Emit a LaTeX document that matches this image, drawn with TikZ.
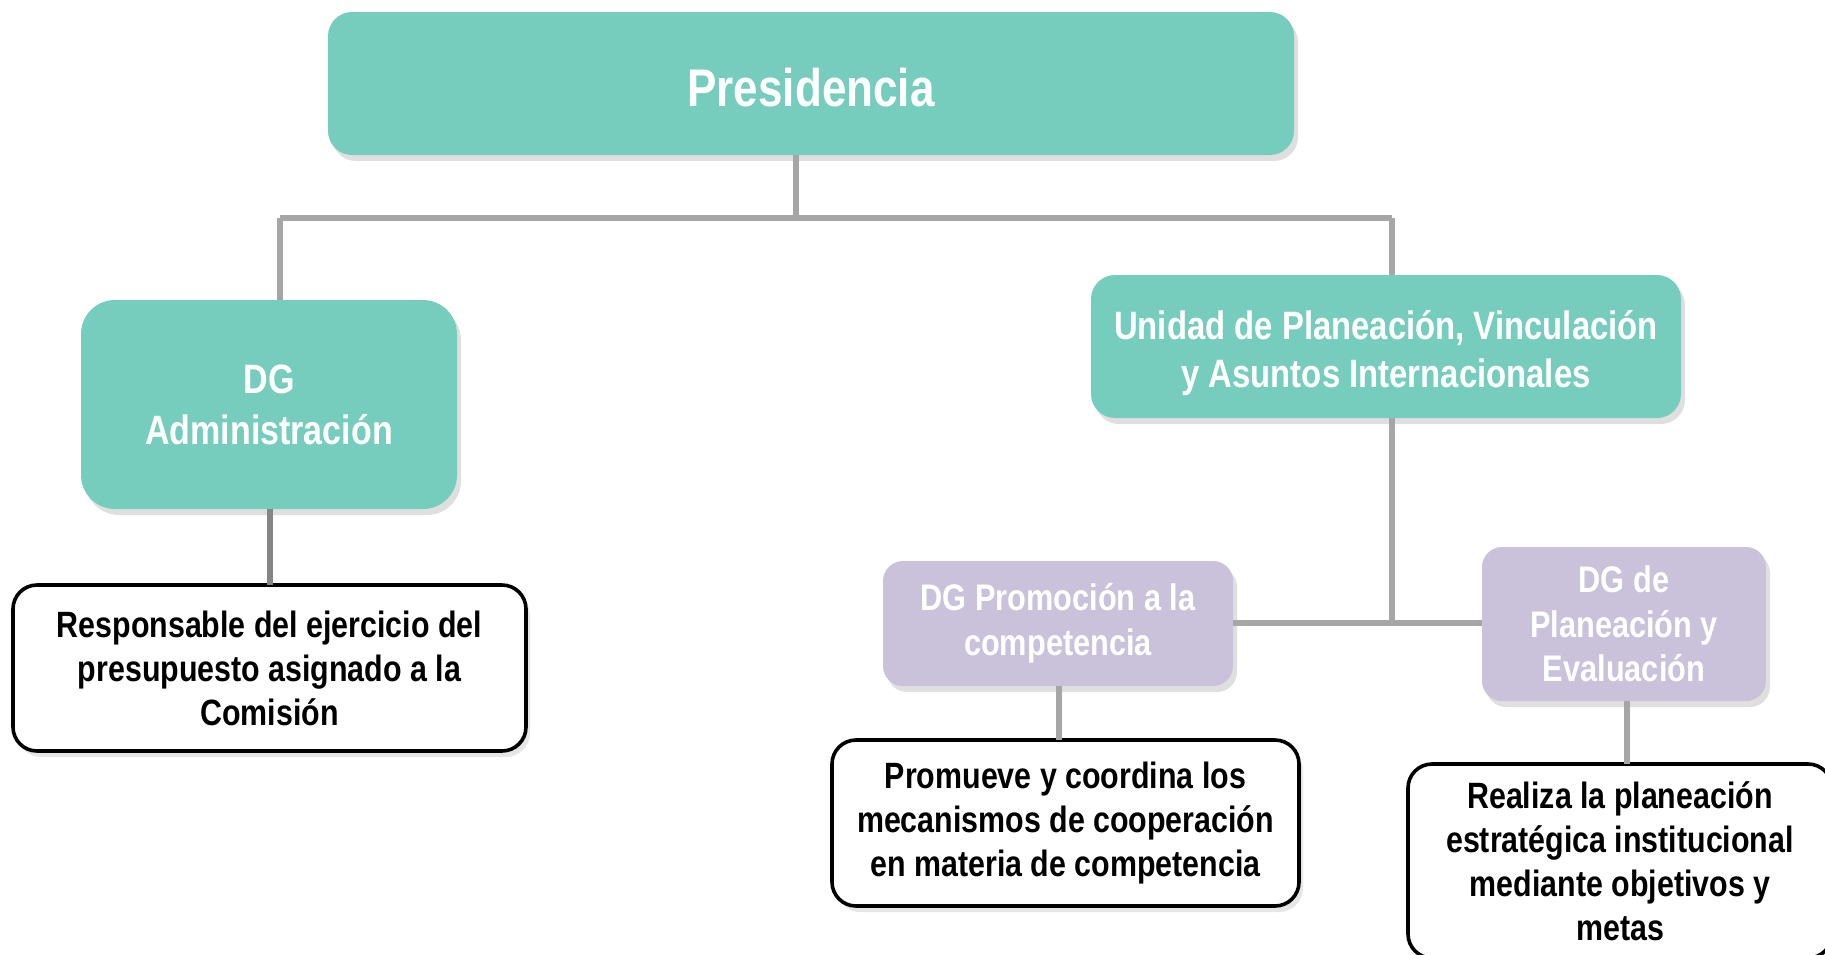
\documentclass[tikz,border=0pt]{standalone}
\usepackage{fontspec}
\setmainfont{Liberation Sans}[FakeStretch=0.83]
\usetikzlibrary{shadows,calc}
\definecolor{teal1}{HTML}{76CDBD}
\definecolor{lav}{HTML}{CAC1DB}
\definecolor{conngray}{HTML}{A6A6A6}
\definecolor{conndark}{HTML}{858585}
\tikzset{
  every node/.style={inner sep=0pt, outer sep=0pt, align=center, font=\bfseries},
  tealbox/.style={fill=teal1, text=white, rounded corners=12pt,
     drop shadow={opacity=0.25, shadow xshift=2pt, shadow yshift=-3pt}},
  lavbox/.style={fill=lav, text=white, rounded corners=10pt,
     drop shadow={opacity=0.25, shadow xshift=2pt, shadow yshift=-3pt}},
  whitebox/.style={fill=white, draw=black, line width=1.8pt, text=black, rounded corners=12pt,
     drop shadow={opacity=0.2, shadow xshift=2pt, shadow yshift=-3pt},
     font=\bfseries\fontsize{18.3}{22}\selectfont},
  conn/.style={draw=conngray, line width=3pt},
  connthin/.style={draw=conngray, line width=2.6pt},
}
\begin{document}
\begin{tikzpicture}[x=0.5pt,y=-0.5pt]
\useasboundingbox (0,0) rectangle (1825,954);
\coordinate (jt) at (796,218);
\coordinate (jl) at (280,218);
\coordinate (jr) at (1392,218);
\coordinate (jb) at (1392,623);

\node[tealbox, minimum width=483pt, minimum height=71.5pt,
  font=\bfseries\fontsize{26.5}{30}\selectfont] (pres) at (811,83.5)
  {\raisebox{-1.8pt}[\height][\depth]{Presidencia}};
\node[tealbox, rounded corners=17pt, minimum width=188pt, minimum height=104.5pt,
  font=\bfseries\fontsize{20.5}{25.5}\selectfont] (adm) at (269,404.5) {DG\\Administración};
\node[tealbox, minimum width=295pt, minimum height=71.5pt,
  font=\bfseries\fontsize{19.8}{24}\selectfont] (uni) at (1386,346.5)
  {\raisebox{-3.5pt}[\height][\depth]{\begin{tabular}{@{}c@{}}Unidad de Planeación, Vinculación\\y Asuntos Internacionales\end{tabular}}};
\node[lavbox, minimum width=175pt, minimum height=62.5pt,
  font=\bfseries\fontsize{18.5}{22.5}\selectfont] (pro) at (1058,623.5) {DG Promoción a la\\competencia};
\node[lavbox, minimum width=142pt, minimum height=77pt,
  font=\bfseries\fontsize{18.5}{22.2}\selectfont] (pla) at (1624,624) {DG de\\Planeación y\\Evaluación};
\node[whitebox, minimum width=256.5pt, minimum height=83pt] (res) at (269.5,668)
  {Responsable del ejercicio del\\presupuesto asignado a la\\Comisión};
\node[whitebox, minimum width=233.5pt, minimum height=83pt] (pmv) at (1065.5,823)
  {Promueve y coordina los\\mecanismos de cooperación\\en materia de competencia};
\node[whitebox, minimum width=212pt, minimum height=97pt] (rea) at (1620,861)
  {Realiza la planeación\\estratégica institucional\\mediante objetivos y\\metas};

\draw[conn] (pres.south -| jt) -- (jt);
\draw[conn] (jl) -- (jr);
\draw[conn] (jl) -- (adm.north -| jl);
\draw[conn] (jr) -- (uni.north -| jr);
\draw[conn] (uni.south -| jb) -- (jb);
\draw[connthin] (pro.east |- jb) -- (pla.west |- jb);
\draw[connthin] ($(pro.south)+(1,0)$) -- ($(pmv.north)+(-6.5,0)$);
\draw[connthin] ($(pla.south)+(3,0)$) -- ($(rea.north)+(7,0)$);
\draw[draw=conndark, line width=2.6pt] ($(adm.south)+(1,0)$) -- ($(res.north)+(0.5,0)$);
\end{tikzpicture}
\end{document}
